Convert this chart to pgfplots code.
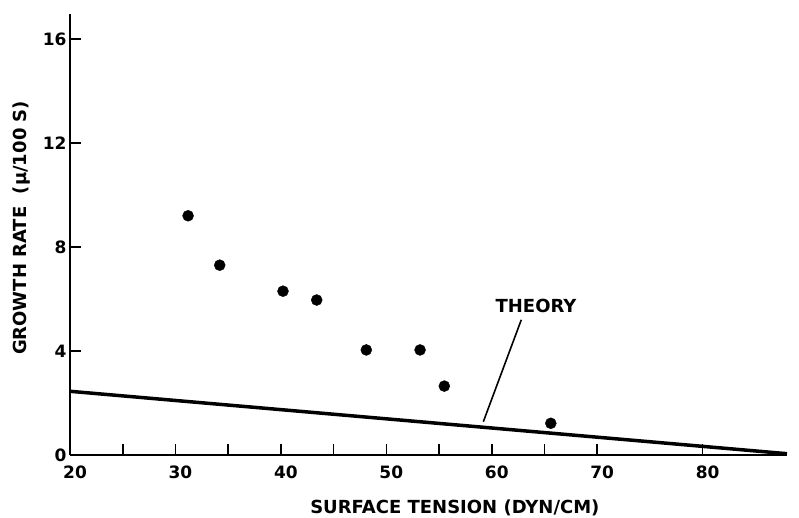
\documentclass[border=0pt]{standalone}
\usepackage{fontspec}
\setmainfont{DejaVu Sans}
\usepackage{pgfplots}
\pgfplotsset{compat=1.18}
\begin{document}
\begin{tikzpicture}
\begin{axis}[
 scale only axis, width=717pt, height=441pt,
 xmin=20, xmax=88, ymin=0, ymax=16.96,
 axis lines=left, axis line style={line width=2pt,-},
 xtick={20,30,...,80}, minor xtick={25,35,45,55,65},
 ytick={0,4,8,12,16},
 tick align=inside, major tick length=11pt, minor tick length=11pt,
 tick style={line width=1.6pt, black},
 every tick label/.append style={font=\fontsize{17}{20}\selectfont\bfseries},
 xticklabel style={yshift=-7pt, xshift=5pt},
 /pgf/number format/assume math mode=true,
 clip=false,
]
\coordinate (O) at (rel axis cs:0,0);
\addplot[line width=3.5pt, black] coordinates {(20,2.45) (88,0.05)};
\addplot[only marks, mark=*, mark size=5.5pt, black] coordinates {
 (31.2,9.2) (34.2,7.3) (40.2,6.3) (43.4,5.96) (48.1,4.04) (53.2,4.04) (55.5,2.65) (65.6,1.22)};
\draw[line width=1.6pt] (axis cs:62.8,5.2) -- (axis cs:59.2,1.28);
\node[font=\fontsize{18}{20}\selectfont\bfseries] at (axis cs:64.2,5.73) {THEORY};
\node[font=\fontsize{18}{20}\selectfont\bfseries] at (axis cs:56.5,-2.04) {SURFACE TENSION (DYN/CM)};
\node[rotate=90, font=\fontsize{18}{20}\selectfont\bfseries] at (axis cs:15.45,8.73) {GROWTH RATE\ \ (μ/100 S)};
\end{axis}
\pgfresetboundingbox
\path (O) ++(-70pt,-63pt) rectangle ++(799pt,518pt);
\end{tikzpicture}
\end{document}
